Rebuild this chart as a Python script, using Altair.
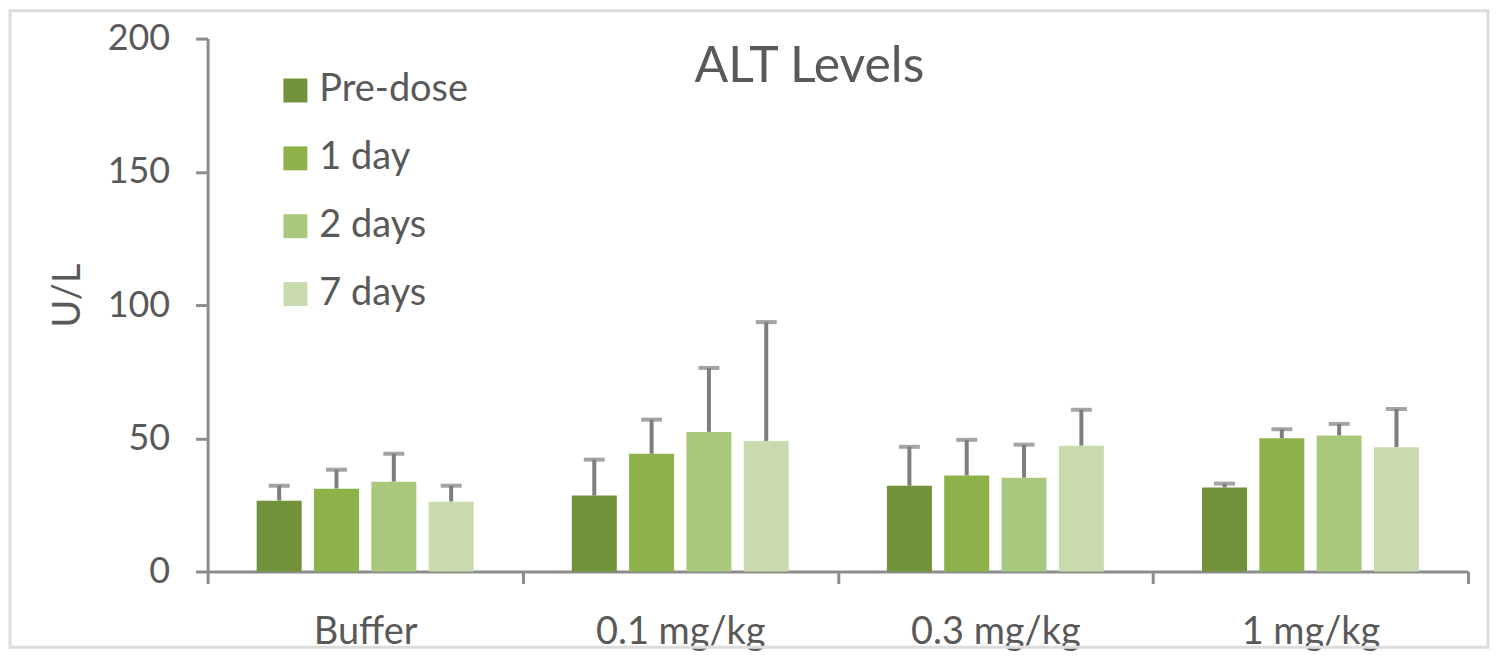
import altair as alt
import pandas as pd

doses = ["Buffer", "0.1 mg/kg", "0.3 mg/kg", "1 mg/kg"]
times = ["Pre-dose", "1 day", "2 days", "7 days"]
colors = ["#71913b", "#8db24a", "#aac77e", "#c9dbae"]

# mean values (U/L) per dose, in order of times
mean_buffer = [26.6, 31.1, 33.7, 26.2]
mean_01 = [28.5, 44.2, 52.4, 49.0]
mean_03 = [32.2, 36.0, 35.2, 47.2]
mean_1 = [31.5, 50.0, 51.0, 46.6]

# upper error (SD) per dose
err_buffer = [5.6, 7.1, 10.5, 6.0]
err_01 = [13.5, 12.8, 24.0, 44.6]
err_03 = [14.6, 13.4, 12.4, 13.5]
err_1 = [1.5, 3.4, 4.4, 14.4]

means = [mean_buffer, mean_01, mean_03, mean_1]
errs = [err_buffer, err_01, err_03, err_1]

rows = []
for d, m_list, e_list in zip(doses, means, errs):
    for t, m, e in zip(times, m_list, e_list):
        rows.append({"dose": d, "time": t, "mean": m, "upper": m + e})
df = pd.DataFrame(rows)

FONT = "Lato"
TXT = "#595959"
AX = "#8c8c8c"
ERR = "#7d7d7d"

W, H = 1263, 534

x_enc = alt.X(
    "dose:N",
    sort=doses,
    scale=alt.Scale(paddingInner=0, paddingOuter=0),
    axis=alt.Axis(
        title=None,
        labelAngle=0,
        labelAlign="center",
        labelBaseline="top",
        labelFont=FONT,
        labelFontSize=38,
        labelColor=TXT,
        labelPadding=30,
        domainColor=AX,
        domainWidth=3,
        tickColor=AX,
        tickWidth=3,
        tickSize=12,
        tickBand="extent",
        grid=False,
    ),
)
xo_enc = alt.XOffset(
    "time:N", sort=times, scale=alt.Scale(paddingInner=0.215, paddingOuter=0.856)
)
y_scale = alt.Scale(domain=[0, 200], nice=False)

bars = alt.Chart(df).mark_bar().encode(
    x=x_enc,
    xOffset=xo_enc,
    y=alt.Y(
        "mean:Q",
        scale=y_scale,
        axis=alt.Axis(
            title="U/L",
            values=[0, 50, 100, 150, 200],
            grid=False,
            labelFont=FONT,
            labelFontSize=36,
            labelColor=TXT,
            labelPadding=26,
            domainColor=AX,
            domainWidth=3,
            tickColor=AX,
            tickWidth=3,
            tickSize=12,
            titleFont=FONT,
            titleFontSize=38,
            titleFontWeight="normal",
            titleColor=TXT,
            titleAngle=-90,
            titleX=-120,
            titleY=257,
            titleAlign="center",
            titleBaseline="bottom",
        ),
    ),
    color=alt.Color(
        "time:N",
        sort=times,
        scale=alt.Scale(domain=times, range=colors),
        legend=alt.Legend(
            title=None,
            orient="none",
            legendX=69,
            legendY=33,
            direction="vertical",
            symbolType="square",
            symbolSize=576,
            symbolStrokeWidth=0,
            labelFont=FONT,
            labelFontSize=38,
            labelColor=TXT,
            labelOffset=5,
            rowPadding=30,
            padding=0,
        ),
    ),
)

rules = alt.Chart(df).mark_rule(color=ERR, strokeWidth=4).encode(
    x=alt.X("dose:N", sort=doses),
    xOffset=alt.XOffset("time:N", sort=times),
    y=alt.Y("mean:Q", scale=y_scale),
    y2="upper:Q",
)

caps = alt.Chart(df).mark_tick(color=ERR, thickness=4, size=21, orient="horizontal").encode(
    x=alt.X("dose:N", sort=doses),
    xOffset=alt.XOffset("time:N", sort=times),
    y=alt.Y("upper:Q", scale=y_scale),
)

title = alt.Chart(pd.DataFrame({"t": ["ALT Levels"]})).mark_text(
    font=FONT, fontSize=50, color=TXT, align="center", baseline="middle"
).encode(text="t:N", x=alt.value(603), y=alt.value(28))

border = alt.Chart(pd.DataFrame({"b": [0]})).mark_rect(
    fill=None, stroke="#dcdcdc", strokeWidth=3
).encode(x=alt.value(-198), x2=alt.value(1283), y=alt.value(-28), y2=alt.value(610))

chart = (
    alt.layer(border, rules, caps, bars, title)
    .properties(
        width=W,
        height=H,
        autosize=alt.AutoSizeParams(type="none"),
        padding={"left": 200, "top": 30, "right": 24, "bottom": 84},
        background="white",
    )
    .configure_view(stroke=None)
)

chart.save("out.html", embed_options={"renderer": "svg", "actions": False})
